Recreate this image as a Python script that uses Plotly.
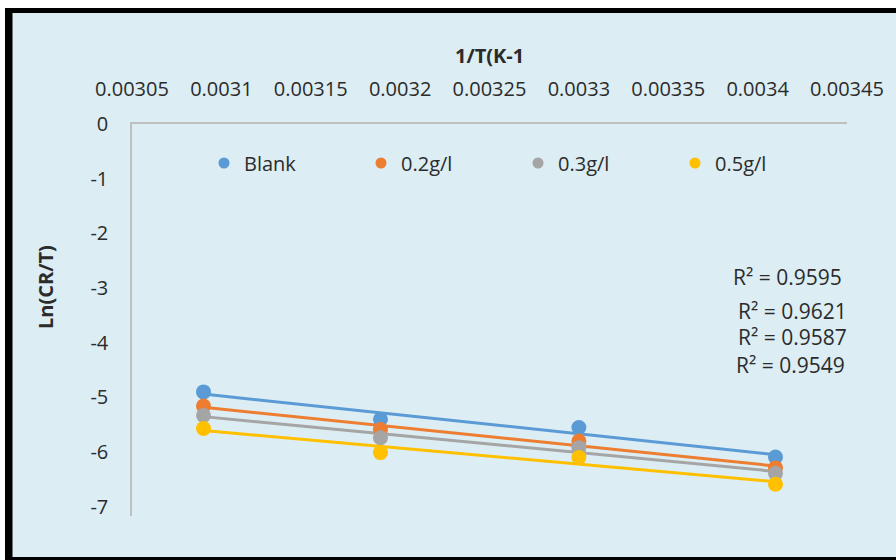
import numpy as np
import plotly.graph_objects as go

# Inverse temperature (1/T, K^-1) and ln(CR/T) for each inhibitor concentration
inv_T = [0.00309, 0.003189, 0.0033, 0.00341]
series_names = ["Blank", "0.2g/l", "0.3g/l", "0.5g/l"]
ln_blank = [-4.90, -5.40, -5.55, -6.09]
ln_02 = [-5.16, -5.59, -5.80, -6.29]
ln_03 = [-5.33, -5.74, -5.92, -6.39]
ln_05 = [-5.57, -6.01, -6.10, -6.59]
r2_labels = ["R² = 0.9595", "R² = 0.9621", "R² = 0.9587", "R² = 0.9549"]
colors = ["#5B9BD5", "#ED7D31", "#A5A5A5", "#FFC000"]

x_tick_vals = [0.00305, 0.0031, 0.00315, 0.0032, 0.00325, 0.0033, 0.00335, 0.0034, 0.00345]
x_tick_text = ["0.00305", "0.0031", "0.00315", "0.0032", "0.00325", "0.0033", "0.00335", "0.0034", "0.00345"]
y_tick_vals = [0, -1, -2, -3, -4, -5, -6, -7]
y_tick_text = ["0", "-1", "-2", "-3", "-4", "-5", "-6", "-7"]

W, H = 896, 560
ML, MR, MT, MB = 132, 49, 124, 44
PW, PH = W - ML - MR, H - MT - MB
BG = "#DCEDF3"
FONT = "Open Sans"
TXT = "#2B2B2B"
FS = 20


def px_x(p):
    return (p - ML) / PW


def px_y(p):
    return (H - MB - p) / PH


fig = go.Figure()
all_series = [ln_blank, ln_02, ln_03, ln_05]
xs = np.array(inv_T)

# Linear trendlines fitted to each series
for ys, col in zip(all_series, colors):
    slope, icpt = np.polyfit(xs, np.array(ys), 1)
    fig.add_trace(go.Scatter(
        x=inv_T, y=list(slope * xs + icpt), mode="lines",
        line=dict(color=col, width=3), showlegend=False, hoverinfo="skip"))

# Data points
for ys, col, name in zip(all_series, colors, series_names):
    fig.add_trace(go.Scatter(
        x=inv_T, y=ys, mode="markers", name=name,
        marker=dict(color=col, size=15), showlegend=False))

# Legend entries with smaller symbols
for col, name in zip(colors, series_names):
    fig.add_trace(go.Scatter(
        x=[None], y=[None], mode="markers", name=name,
        marker=dict(color=col, size=11)))

# Frame around the chart
shapes = []
def rect(x0, y0, x1, y1, color):
    shapes.append(dict(type="rect", xref="paper", yref="paper",
                       x0=px_x(x0), x1=px_x(x1), y0=px_y(y1), y1=px_y(y0),
                       fillcolor=color, line=dict(width=0), layer="above"))

rect(0, 0, W, 8, "white")
rect(0, 0, 5, H, "white")
rect(5, 8, W, 13, "black")
rect(5, 8, 12.5, H, "black")
rect(5, 557, W, H, "black")

annotations = [
    dict(text="<b>1/T(K-1</b>", xref="paper", yref="paper", x=0.5, y=px_y(55),
         xanchor="center", yanchor="middle", showarrow=False,
         font=dict(family=FONT, size=FS, color=TXT)),
    dict(text="<b>Ln(CR/T)</b>", xref="paper", yref="paper", x=px_x(45), y=px_y(287),
         xanchor="center", yanchor="middle", showarrow=False, textangle=-90,
         font=dict(family=FONT, size=FS, color=TXT)),
]
r2_pos = [(787, 277), (792, 311), (792, 337), (790, 365)]
for txt, (ax, ay) in zip(r2_labels, r2_pos):
    annotations.append(dict(text=txt, xref="paper", yref="paper", x=px_x(ax), y=px_y(ay),
                            xanchor="center", yanchor="middle", showarrow=False,
                            font=dict(family=FONT, size=21, color=TXT)))

fig.update_layout(
    width=W, height=H,
    margin=dict(l=ML, r=MR, t=MT, b=MB),
    paper_bgcolor=BG, plot_bgcolor=BG,
    font=dict(family=FONT, size=FS, color=TXT),
    shapes=shapes, annotations=annotations,
    legend=dict(orientation="h", x=px_x(204), y=px_y(163), xanchor="left", yanchor="middle",
                entrywidth=112, entrywidthmode="pixels", bgcolor="rgba(0,0,0,0)",
                font=dict(family=FONT, size=FS, color=TXT)),
    xaxis=dict(side="top", range=[0.00305, 0.00345], tickvals=x_tick_vals, ticktext=x_tick_text,
               showgrid=False, zeroline=False, showline=True, linecolor="#BFBFBF", linewidth=1.5,
               ticks="", ticklabelstandoff=18, tickfont=dict(family=FONT, size=FS, color=TXT)),
    yaxis=dict(range=[-7.17, 0], tickvals=y_tick_vals, ticktext=y_tick_text,
               showgrid=False, zeroline=False, showline=True, linecolor="#BFBFBF", linewidth=1.5,
               ticks="", ticklabelstandoff=18, tickfont=dict(family=FONT, size=FS, color=TXT)),
)

fig.write_html("out.html")
